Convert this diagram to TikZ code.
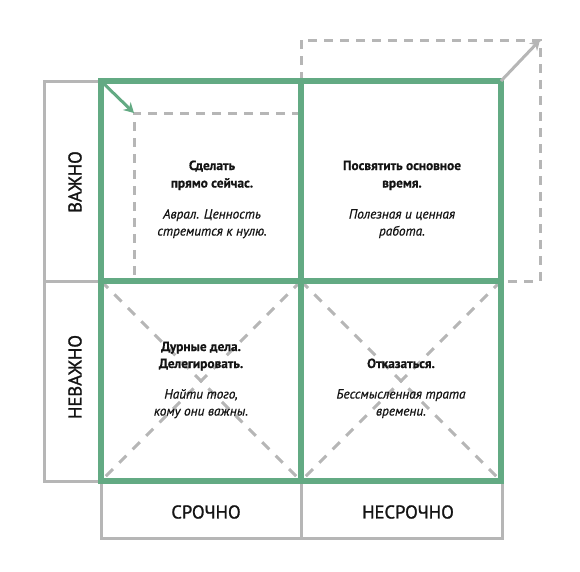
\documentclass[tikz,border=0pt]{standalone}
\usepackage{fontspec}
\setmainfont{PT Sans}
\newfontfamily\txtfont{PT Sans}[FakeBold=0.6]
\newfontfamily\axisfont{PT Sans}[FakeBold=1.3]
\usetikzlibrary{arrows.meta}
\definecolor{grn}{RGB}{99,170,131}
\definecolor{gry}{RGB}{182,182,182}
\definecolor{ink}{RGB}{20,20,20}
\begin{document}
\begin{tikzpicture}[x=1pt,y=-1pt,
  frame/.style={draw=gry,line width=3pt},
  dashline/.style={draw=gry,line width=3pt,dash pattern=on 9pt off 7pt},
  xline/.style={draw=gry,line width=3pt,dash pattern=on 10pt off 9pt},
  gridline/.style={draw=grn,line width=6pt},
  boldtxt/.style={font=\txtfont\fontsize{13.3}{16}\selectfont\bfseries,text=ink,anchor=base,inner sep=0pt},
  italtxt/.style={font=\txtfont\fontsize{13.3}{16}\selectfont\itshape,text=ink,anchor=base,inner sep=0pt},
  axistxt/.style={font=\axisfont\fontsize{18.5}{22}\selectfont,text=ink,inner sep=0pt}]
\useasboundingbox (0,0) rectangle (580,571);
% named corners
\coordinate (tl) at (101,81);
\coordinate (tm) at (301,81);
\coordinate (tr) at (501,81);
\coordinate (ml) at (101,281);
\coordinate (mm) at (301,281);
\coordinate (mr) at (501,281);
\coordinate (bl) at (101,481);
\coordinate (bm) at (301,481);
\coordinate (br) at (501,481);
\coordinate (shr) at (134,113);
\coordinate (big) at (540,40);
% gray label frames
\draw[frame] (44,81) rectangle (bl);
\draw[frame] (44,281) -- (ml);
\draw[frame] (bl) rectangle (502,538);
\draw[frame] (bm) -- (301,538);
% dashed enlarged top-right
\draw[dashline] (tm) -- (301,40) -- (big) -- (540,281) -- (mr);
% dashed shrunk top-left
\draw[dashline] (301,113) -- (shr) -- (134,281);
% dashed crosses
\draw[xline] (ml) -- (bm);
\draw[xline] (mm) -- (bl);
\draw[xline] (mm) -- (br);
\draw[xline] (mr) -- (bm);
% green grid
\draw[gridline] (tl) rectangle (br);
\draw[gridline] (tm) -- (bm);
\draw[gridline] (ml) -- (mr);
% arrows
\draw[grn,line width=3pt,-{Stealth[length=10pt,width=11pt]}] (tl) -- (shr);
\draw[gry,line width=3pt,-{Stealth[length=10pt,width=11pt]}] (tr) -- (big);
% quadrant texts
\node[boldtxt] (a1) at (212,170) {Сделать};
\node[boldtxt] (a2) at (212,187.5) {прямо сейчас.};
\node[italtxt] (a3) at (212,218.5) {Аврал. Ценность};
\node[italtxt] (a4) at (212,235.5) {стремится к нулю.};
\node[boldtxt] (b1) at (402,170) {Посвятить основное};
\node[boldtxt] (b2) at (402,187.5) {время.};
\node[italtxt] (b3) at (402,218.5) {Полезная и ценная};
\node[italtxt] (b4) at (402,235.5) {работа.};
\node[boldtxt] (c1) at (201,351) {Дурные дела.};
\node[boldtxt] (c2) at (201,368) {Делегировать.};
\node[italtxt] (c3) at (201,398.5) {Найти того,};
\node[italtxt] (c4) at (201,415.5) {кому они важны.};
\node[boldtxt] (d1) at (401,368) {Отказаться.};
\node[italtxt] (d3) at (401,398.5) {Бессмысленная трата};
\node[italtxt] (d4) at (401,415.5) {времени.};
% axis labels
\node[axistxt,rotate=90] (imp) at (75,182) {ВАЖНО};
\node[axistxt,rotate=90] (unimp) at (75,377) {НЕВАЖНО};
\node[axistxt] (urg) at (206,512) {СРОЧНО};
\node[axistxt] (nurg) at (408,512) {НЕСРОЧНО};
\end{tikzpicture}
\end{document}
